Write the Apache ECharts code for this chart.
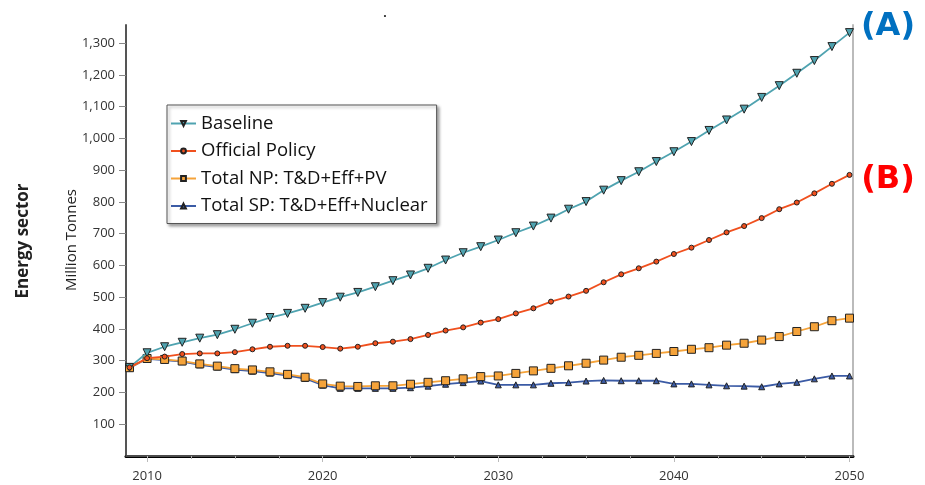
<!DOCTYPE html>
<html>
<head>
<meta charset="utf-8">
<style>
  html, body { margin: 0; padding: 0; background: #ffffff; }
  #chart { width: 925px; height: 485px; }
</style>
<script src="https://cdn.jsdelivr.net/npm/echarts@6/dist/echarts.min.js"></script>
</head>
<body>
<div id="chart"></div>
<script>
// Energy sector CO2 emissions by scenario, million tonnes, 2009-2050
const years = [2009, 2010, 2011, 2012, 2013, 2014, 2015, 2016, 2017, 2018, 2019,
  2020, 2021, 2022, 2023, 2024, 2025, 2026, 2027, 2028, 2029,
  2030, 2031, 2032, 2033, 2034, 2035, 2036, 2037, 2038, 2039,
  2040, 2041, 2042, 2043, 2044, 2045, 2046, 2047, 2048, 2049, 2050];

const baseline = [279, 325, 344, 358, 371, 382, 399, 418, 436, 449, 465,
  483, 500, 515, 533, 552, 570, 591, 617, 640, 659,
  680, 703, 724, 749, 777, 801, 837, 867, 895, 927,
  958, 990, 1025, 1058, 1092, 1129, 1166, 1205, 1245, 1289, 1333];

const officialPolicy = [279, 308, 313, 321, 323, 323, 327, 336, 344, 347, 347,
  343, 338, 344, 355, 360, 368, 381, 395, 405, 420,
  431, 449, 465, 486, 502, 520, 547, 572, 591, 612,
  636, 656, 680, 704, 724, 749, 777, 798, 827, 857, 885];

const totalNP = [278, 307, 304, 299, 290, 283, 275, 271, 265, 257, 248,
  227, 220, 219, 221, 221, 226, 232, 237, 243, 250,
  252, 260, 268, 276, 284, 292, 302, 311, 317, 323,
  329, 336, 341, 349, 355, 365, 376, 392, 407, 426, 434];

const totalSP = [277, 306, 302, 297, 287, 280, 272, 267, 261, 253, 244,
  223, 213, 213, 213, 213, 215, 220, 226, 231, 236,
  224, 224, 224, 229, 231, 236, 238, 237, 237, 237,
  227, 227, 224, 221, 220, 218, 227, 232, 243, 252, 252];

const seriesNames = ['Baseline', 'Official Policy', 'Total NP: T&D+Eff+PV', 'Total SP: T&D+Eff+Nuclear'];
const xTickLabels = [2010, 2020, 2030, 2040, 2050];
const xMinorTicks = [2012.5, 2015, 2017.5, 2022.5, 2025, 2027.5, 2032.5, 2035, 2037.5, 2042.5, 2045, 2047.5];
const yTickLabels = [100, 200, 300, 400, 500, 600, 700, 800, 900, 1000, 1100, 1200, 1300];

const pair = arr => years.map((y, i) => [y, arr[i]]);

const FONT = '"Open Sans", "Noto Sans", sans-serif';
const X_MIN = 2008.8, X_MAX = 2050.2, Y_MAX = 1357;

const chart = echarts.init(document.getElementById('chart'), null, { renderer: 'canvas' });

function lineSeries(name, data, color, symbol, size, rotate, z) {
  return {
    name, type: 'line', data, z,
    xAxisIndex: 0, yAxisIndex: 0,
    symbol, symbolSize: size, symbolRotate: rotate,
    showAllSymbol: true,
    lineStyle: { color, width: 1.8 },
    itemStyle: { color, borderColor: '#222', borderWidth: 1 },
    emphasis: { disabled: true }
  };
}

chart.setOption({
  animation: false,
  backgroundColor: '#ffffff',
  grid: { left: 126, right: 72, top: 25, bottom: 29, containLabel: false },
  legend: {
    data: seriesNames,
    orient: 'vertical',
    left: 167, top: 105,
    padding: [8, 9, 7, 3],
    itemGap: 6.5,
    itemWidth: 25, itemHeight: 6,
    backgroundColor: '#ffffff',
    borderColor: '#555', borderWidth: 1,
    shadowColor: 'rgba(0,0,0,0.35)', shadowBlur: 3, shadowOffsetX: 2, shadowOffsetY: 2,
    textStyle: { fontFamily: FONT, fontSize: 18.5, color: '#111', lineHeight: 21, padding: [0, 0, 0, 0] },
    selectedMode: false
  },
  xAxis: [{
    type: 'value', min: X_MIN, max: X_MAX, position: 'bottom',
    splitLine: { show: false },
    axisLine: { show: true, onZero: false, lineStyle: { color: '#000', width: 3 } },
    axisTick: { show: true, length: 6, customValues: xTickLabels, lineStyle: { color: '#bbb', width: 1 } },
    axisLabel: { customValues: xTickLabels, margin: 14, fontFamily: FONT, fontSize: 13, color: '#333',
      formatter: v => String(v) }
  }, {
    type: 'value', min: X_MIN, max: X_MAX, position: 'bottom',
    splitLine: { show: false },
    axisLine: { show: false },
    axisTick: { show: true, length: 3, customValues: xMinorTicks, lineStyle: { color: '#aaa', width: 1 } },
    axisLabel: { show: false }
  }, {
    type: 'value', min: X_MIN, max: X_MAX, position: 'top',
    splitLine: { show: false },
    axisLine: { show: true, lineStyle: { color: '#666', width: 1.5 } },
    axisTick: { show: false }, axisLabel: { show: false }
  }],
  yAxis: [{
    type: 'value', min: 0, max: Y_MAX, position: 'left',
    splitLine: { show: false },
    axisLine: { show: true, onZero: false, lineStyle: { color: '#555', width: 2 } },
    axisTick: { show: true, length: 7, customValues: yTickLabels, lineStyle: { color: '#888', width: 1 } },
    axisLabel: { customValues: yTickLabels, margin: 11, fontFamily: FONT, fontSize: 13, color: '#333',
      formatter: v => v.toLocaleString('en-US') }
  }, {
    type: 'value', min: 0, max: Y_MAX, position: 'right',
    splitLine: { show: false },
    axisLine: { show: true, lineStyle: { color: '#bbb', width: 2 } },
    axisTick: { show: false }, axisLabel: { show: false }
  }],
  series: [
    lineSeries(seriesNames[0], pair(baseline), '#4fa3b0', 'triangle', 8, 180, 5),
    lineSeries(seriesNames[1], pair(officialPolicy), '#f0501e', 'circle', 5, 0, 5),
    lineSeries(seriesNames[2], pair(totalNP), '#f5a33a', 'rect', 8, 0, 4),
    lineSeries(seriesNames[3], pair(totalSP), '#3b5ba5', 'triangle', 6, 0, 3)
  ],
  graphic: [
    { type: 'text', x: 23, y: 241, rotation: Math.PI / 2,
      style: { text: 'Energy sector', font: 'bold 17px ' + FONT, fill: '#222', align: 'center', verticalAlign: 'middle' } },
    { type: 'text', x: 72, y: 240, rotation: Math.PI / 2,
      style: { text: 'Million Tonnes', font: '15px ' + FONT, fill: '#222', align: 'center', verticalAlign: 'middle' } },
    { type: 'text', x: 888, y: 27,
      style: { text: '(A)', font: 'bold 32px "DejaVu Sans", sans-serif', fill: '#0070c0', align: 'center', verticalAlign: 'middle' } },
    { type: 'text', x: 888, y: 180,
      style: { text: '(B)', font: 'bold 32px "DejaVu Sans", sans-serif', fill: '#ff0000', align: 'center', verticalAlign: 'middle' } },
    { type: 'text', x: 385, y: 14,
      style: { text: '.', font: 'bold 12px ' + FONT, fill: '#222', align: 'center', verticalAlign: 'middle' } }
  ]
});
</script>
</body>
</html>
